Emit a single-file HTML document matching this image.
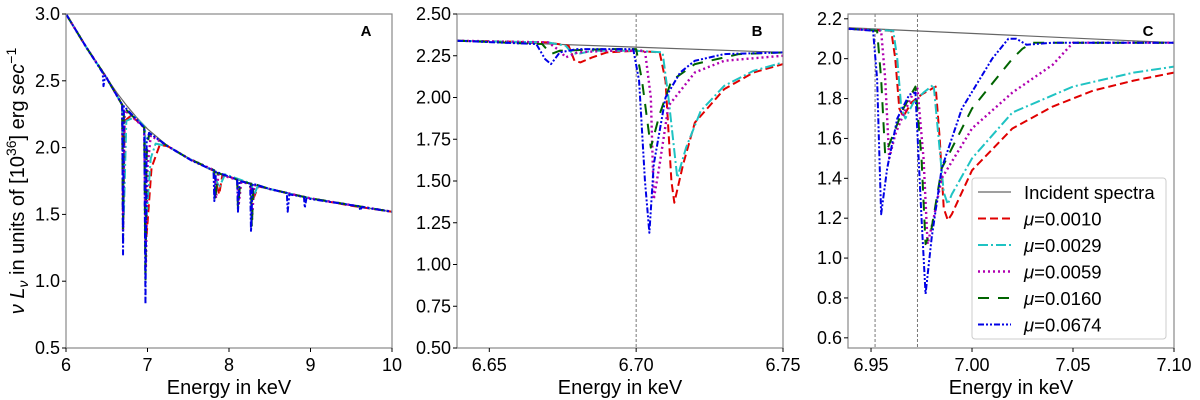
<!DOCTYPE html>
<html><head><meta charset="utf-8">
<style>
body{margin:0;background:#fff;}
svg{display:block;font-family:"Liberation Sans","DejaVu Sans",sans-serif;}
</style></head>
<body>
<svg id="chart" width="1200" height="400" viewBox="0 0 1200 400" xmlns="http://www.w3.org/2000/svg"></svg>
<script>
// ---------- data ----------
const incidentA = [[6,3.0],[6.125,2.87],[6.25,2.75],[6.375,2.63],[6.5,2.52],[6.625,2.41],[6.75,2.31],[6.875,2.22],[7,2.14],[7.25,2.01],[7.5,1.92],[7.75,1.84],[8,1.78],[8.25,1.73],[8.5,1.69],[8.75,1.65],[9,1.62],[9.5,1.565],[10,1.52]];
const redA = [[6,3.0],[6.25,2.75],[6.5,2.52],[6.69,2.32],[6.7,1.4],[6.72,2.2],[6.8,2.24],[6.96,2.15],[6.99,1.35],[7.05,1.85],[7.15,2.02],[7.25,2.01],[7.5,1.92],[7.8,1.83],[7.88,1.65],[7.92,1.8],[8.25,1.73],[8.3,1.62],[8.36,1.71],[8.5,1.69],[9,1.62],[9.5,1.565],[10,1.52]];
const cyanA = [[6,3.0],[6.25,2.75],[6.5,2.52],[6.69,2.32],[6.71,1.5],[6.74,2.2],[6.85,2.23],[6.97,2.15],[6.985,1.45],[7.04,1.92],[7.1,2.03],[7.25,2.01],[7.5,1.92],[7.8,1.83],[7.88,1.7],[7.95,1.8],[8.28,1.73],[8.3,1.63],[8.35,1.71],[8.5,1.69],[9,1.62],[10,1.52]];
const magentaA = [[6,3.0],[6.25,2.75],[6.5,2.52],[6.69,2.32],[6.7,1.38],[6.72,2.28],[6.96,2.15],[6.98,1.1],[7.0,1.85],[7.04,2.09],[7.25,2.01],[7.5,1.92],[7.82,1.83],[7.84,1.62],[7.87,1.8],[8.1,1.76],[8.12,1.58],[8.15,1.74],[8.27,1.73],[8.28,1.45],[8.31,1.72],[8.5,1.69],[9,1.62],[10,1.52]];
const greenA = [[6,3.0],[6.25,2.75],[6.5,2.52],[6.69,2.32],[6.7,1.3],[6.71,2.3],[6.96,2.15],[6.975,1.0],[6.99,1.95],[7.02,2.11],[7.25,2.01],[7.5,1.92],[7.82,1.83],[7.83,1.6],[7.86,1.81],[8.1,1.76],[8.11,1.55],[8.14,1.75],[8.27,1.73],[8.28,1.4],[8.3,1.73],[8.5,1.69],[9,1.62],[10,1.52]];
const blueA = [[6,3.0],[6.25,2.75],[6.45,2.56],[6.46,2.46],[6.48,2.54],[6.69,2.32],[6.7,1.2],[6.71,2.31],[6.96,2.15],[6.975,0.83],[6.99,2.05],[7.02,2.11],[7.25,2.01],[7.55,1.9],[7.81,1.83],[7.82,1.6],[7.84,1.82],[8.1,1.76],[8.11,1.52],[8.13,1.75],[8.26,1.73],[8.27,1.37],[8.29,1.73],[8.5,1.69],[8.71,1.66],[8.72,1.52],[8.74,1.65],[8.92,1.63],[8.93,1.55],[8.95,1.62],[9.6,1.56],[9.61,1.53],[9.63,1.555],[10,1.52]];

const incidentB = [[6.639,2.34],[6.75,2.27]];
const redB = [[6.639,2.34],[6.67,2.33],[6.677,2.31],[6.679,2.22],[6.681,2.21],[6.685,2.24],[6.69,2.27],[6.7,2.28],[6.708,2.27],[6.71,2.1],[6.712,1.5],[6.713,1.37],[6.716,1.6],[6.72,1.85],[6.73,2.05],[6.74,2.15],[6.75,2.2]];
const cyanB = [[6.639,2.34],[6.67,2.33],[6.676,2.31],[6.678,2.27],[6.68,2.26],[6.685,2.28],[6.7,2.28],[6.709,2.27],[6.711,2.0],[6.714,1.52],[6.717,1.7],[6.722,1.92],[6.73,2.07],[6.74,2.16],[6.75,2.21]];
const magentaB = [[6.639,2.34],[6.67,2.33],[6.674,2.28],[6.676,2.24],[6.68,2.27],[6.69,2.28],[6.703,2.28],[6.705,2.0],[6.706,1.39],[6.708,1.6],[6.711,1.95],[6.72,2.15],[6.73,2.22],[6.75,2.25]];
const greenB = [[6.639,2.34],[6.668,2.32],[6.671,2.26],[6.674,2.28],[6.69,2.29],[6.7,2.29],[6.702,2.1],[6.705,1.7],[6.708,1.9],[6.712,2.1],[6.72,2.2],[6.735,2.26],[6.75,2.27]];
const blueB = [[6.639,2.34],[6.666,2.32],[6.669,2.23],[6.671,2.2],[6.674,2.27],[6.68,2.29],[6.699,2.29],[6.701,2.1],[6.703,1.5],[6.7045,1.19],[6.706,1.6],[6.71,2.0],[6.715,2.15],[6.72,2.22],[6.73,2.26],[6.75,2.27]];

const incidentC = [[6.939,2.155],[7.1,2.08]];
const redC = [[6.939,2.15],[6.96,2.14],[6.962,2.0],[6.964,1.75],[6.966,1.71],[6.97,1.78],[6.975,1.82],[6.982,1.86],[6.984,1.6],[6.986,1.25],[6.988,1.19],[6.99,1.22],[7.0,1.44],[7.02,1.65],[7.04,1.76],[7.06,1.84],[7.08,1.89],[7.1,1.93]];
const cyanC = [[6.939,2.15],[6.961,2.14],[6.963,2.0],[6.965,1.75],[6.967,1.7],[6.971,1.78],[6.976,1.83],[6.981,1.87],[6.983,1.65],[6.986,1.33],[6.988,1.27],[6.99,1.32],[7.0,1.5],[7.02,1.73],[7.05,1.86],[7.08,1.93],[7.1,1.96]];
const magentaC = [[6.939,2.15],[6.955,2.14],[6.957,1.9],[6.959,1.5],[6.962,1.62],[6.966,1.72],[6.971,1.83],[6.973,1.85],[6.976,1.5],[6.978,1.07],[6.981,1.2],[6.985,1.4],[7.0,1.65],[7.02,1.83],[7.04,1.97],[7.05,2.08],[7.1,2.08]];
const greenC = [[6.939,2.15],[6.953,2.14],[6.955,1.9],[6.957,1.52],[6.961,1.62],[6.966,1.75],[6.972,1.86],[6.975,1.5],[6.977,1.07],[6.98,1.15],[6.985,1.45],[7.0,1.75],[7.02,2.0],[7.025,2.05],[7.03,2.08],[7.1,2.08]];
const blueC = [[6.939,2.15],[6.951,2.14],[6.953,1.9],[6.955,1.22],[6.958,1.45],[6.963,1.7],[6.969,1.82],[6.972,1.83],[6.975,1.2],[6.977,0.82],[6.98,1.1],[6.985,1.45],[6.995,1.75],[7.01,2.0],[7.018,2.1],[7.022,2.1],[7.027,2.07],[7.04,2.08],[7.1,2.08]];

const xTicksA = [6,7,8,9,10];
const yTicksA = [0.5,1.0,1.5,2.0,2.5,3.0];
const xTicksB = [6.65,6.70,6.75];
const yTicksB = [0.5,0.75,1.0,1.25,1.5,1.75,2.0,2.25,2.5];
const xTicksC = [6.95,7.0,7.05,7.1];
const yTicksC = [0.6,0.8,1.0,1.2,1.4,1.6,1.8,2.0,2.2];
const legendLabels = ["Incident spectra","μ=0.0010","μ=0.0029","μ=0.0059","μ=0.0160","μ=0.0674"];

// ---------- drawing ----------
const NS = "http://www.w3.org/2000/svg";
const svg = document.getElementById("chart");
const styles = [
  {c:"#666",d:"",w:1.2},
  {c:"#e00000",d:"8,4",w:2},
  {c:"#1fc3c3",d:"10,3,2,3",w:2},
  {c:"#b000b0",d:"2,3",w:2.4},
  {c:"#006400",d:"11,9",w:2},
  {c:"#0000e6",d:"6,2,2,2,2,2",w:2}
];
function mk(tag, attrs, parent){ const e=document.createElementNS(NS,tag); for(const k in attrs) e.setAttribute(k,attrs[k]); (parent||svg).appendChild(e); return e; }

function panel(p){
  const g = mk("g",{});
  
  
  const sx = v => p.x0 + (v - p.xmin)/(p.xmax - p.xmin)*(p.x1 - p.x0);
  const sy = v => p.y1 - (v - p.ymin)/(p.ymax - p.ymin)*(p.y1 - p.y0);
  const clipId = "clip"+p.id;
  const cp = mk("clipPath",{id:clipId},g);
  mk("rect",{x:p.x0,y:p.y0,width:p.x1-p.x0,height:p.y1-p.y0},cp);
  (p.vlines||[]).forEach(v=>{
    const l = mk("line",{x1:sx(v),x2:sx(v),y1:p.y0,y2:p.y1,stroke:"#777","stroke-width":1,"stroke-dasharray":"3,2"},g);
    
    
  });
  const names = ["incident-spectrum","series-mu-0010","series-mu-0029","series-mu-0059","series-mu-0160","series-mu-0674"];
  p.series.forEach((s,i)=>{
    const st = styles[i];
    const d = s.map((pt,j)=>(j?"L":"M")+sx(pt[0]).toFixed(2)+","+sy(pt[1]).toFixed(2)).join("");
    const path = mk("path",{d:d,fill:"none",stroke:st.c,"stroke-width":st.w,"stroke-dasharray":st.d,"clip-path":"url(#"+clipId+")","stroke-linejoin":"round"},g);
    
    
  });
  const frame = mk("rect",{x:p.x0,y:p.y0,width:p.x1-p.x0,height:p.y1-p.y0,fill:"none",stroke:"#888","stroke-width":1.2},g);
  
  
  p.xt.forEach(v=>{
    mk("line",{x1:sx(v),x2:sx(v),y1:p.y1,y2:p.y1+4,stroke:"#000"},g);
    const t = mk("text",{x:sx(v),y:p.y1+23,"text-anchor":"middle","font-size":18},g);
    t.textContent = v.toFixed(p.xdec);
    
    
  });
  p.yt.forEach(v=>{
    mk("line",{x1:p.x0-4,x2:p.x0,y1:sy(v),y2:sy(v),stroke:"#000"},g);
    const t = mk("text",{x:p.x0-6,y:sy(v)+6,"text-anchor":"end","font-size":18},g);
    t.textContent = v.toFixed(p.ydec);
    
    
  });
  const xl = mk("text",{x:(p.x0+p.x1)/2,y:p.y1+46,"text-anchor":"middle","font-size":20},g);
  xl.textContent = "Energy in keV";
  
  
  const pl = mk("text",{x:p.x1-26,y:p.y0+22,"text-anchor":"middle","font-size":15,"font-weight":"bold"},g);
  pl.textContent = p.id;
  
  
}

panel({id:"A",x0:66,x1:392,y0:14,y1:348,xmin:6,xmax:10,ymin:0.5,ymax:3.0,xt:xTicksA,yt:yTicksA,xdec:0,ydec:1,
  series:[incidentA,redA,cyanA,magentaA,greenA,blueA]});
panel({id:"B",x0:457,x1:783,y0:14,y1:348,xmin:6.639,xmax:6.75,ymin:0.5,ymax:2.5,xt:xTicksB,yt:yTicksB,xdec:2,ydec:2,vlines:[6.70],
  series:[incidentB,redB,cyanB,magentaB,greenB,blueB]});
panel({id:"C",x0:848,x1:1174,y0:14,y1:348,xmin:6.9386,xmax:7.1,ymin:0.549,ymax:2.224,xt:xTicksC,yt:yTicksC,xdec:2,ydec:1,vlines:[6.952,6.973],
  series:[incidentC,redC,cyanC,magentaC,greenC,blueC]});

const yt = mk("text",{x:0,y:0,"text-anchor":"middle","font-size":20,transform:"translate(24,181) rotate(-90)"});


yt.innerHTML = '<tspan font-style="italic">ν L</tspan><tspan font-style="italic" font-size="14" dy="4">ν</tspan><tspan dy="-4"> in units of [10</tspan><tspan font-size="14" dy="-8">36</tspan><tspan dy="8">] erg </tspan><tspan font-style="italic">sec</tspan><tspan font-size="14" dy="-8">−1</tspan>';

const lg = mk("g",{});


mk("rect",{x:972,y:178,width:194,height:161,rx:3,fill:"#fff","fill-opacity":0.85,stroke:"#ccc"},lg);
legendLabels.forEach((lab,i)=>{
  const y = 192 + i*26.5;
  const st = styles[i];
  const e = mk("g",{},lg);
  
  
  mk("line",{x1:978,x2:1011,y1:y,y2:y,stroke:st.c,"stroke-width":st.w,"stroke-dasharray":st.d},e);
  const t = mk("text",{x:1024,y:y+7,"font-size":18.5},e);
  if(i===0){ t.textContent = lab; }
  else { t.innerHTML = '<tspan font-style="italic">μ</tspan>' + lab.slice(1); }
});
</script>
</body></html>
